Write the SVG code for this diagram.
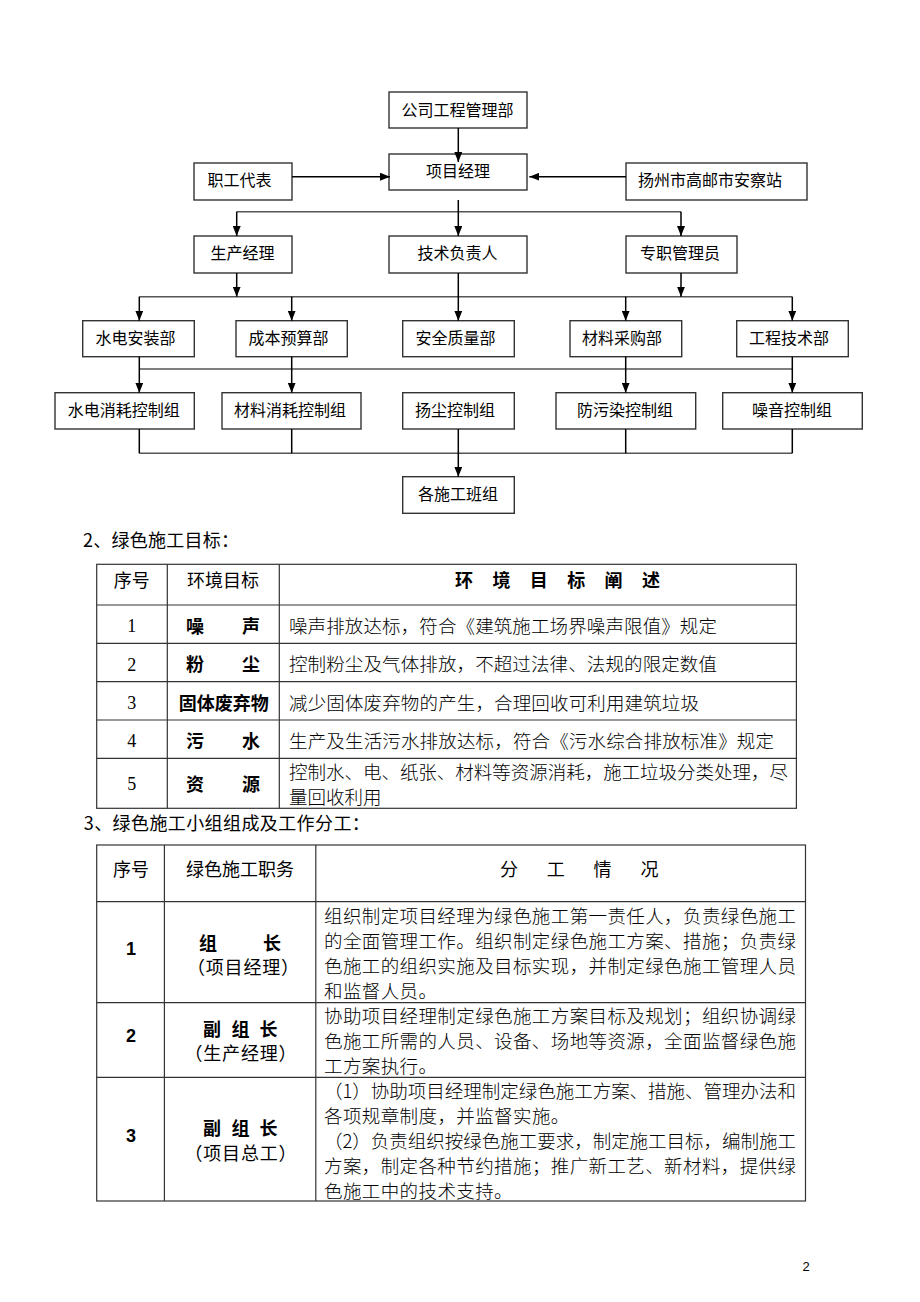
<svg xmlns="http://www.w3.org/2000/svg" width="920" height="1302" viewBox="0 0 920 1302">
<style>
.box{fill:#fff;stroke:#333;stroke-width:1.4}
.lbl{font-family:"Noto Sans CJK SC","Liberation Sans",sans-serif;font-size:16px;fill:#000;text-anchor:middle}
.ln{stroke:#000;stroke-width:1.5;fill:none}
.bus{stroke:#555;stroke-width:1.5;fill:none}
.grid{stroke:#333;stroke-width:1.2;fill:none}
.cj{font-family:"Noto Sans CJK SC","Liberation Sans",sans-serif;font-size:18px;fill:#000}
.ds{font-family:"Noto Sans CJK SC","Liberation Serif",serif;font-size:18.5px;fill:#000;font-weight:300}
.num{font-family:"Liberation Serif","Noto Sans CJK SC",serif;font-size:18px;fill:#000;text-anchor:middle}
.bnum{font-family:"Liberation Sans","Noto Sans CJK SC",sans-serif;font-size:18px;font-weight:bold;fill:#000;text-anchor:middle}
.mid{text-anchor:middle}
.b{font-weight:bold}
</style>
<defs>
<marker id="ah" markerWidth="10" markerHeight="8" refX="10" refY="4" orient="auto" markerUnits="userSpaceOnUse"><path d="M0,0 L10,4 L0,8 z" fill="#000"/></marker>
</defs>

<g id="n-company"><rect class="box" x="389" y="92" width="138" height="36"/><text class="lbl" x="457.5" y="116">公司工程管理部</text></g>
<g id="n-pm"><rect class="box" x="389" y="154" width="138" height="36"/><text class="lbl" x="458" y="177">项目经理</text></g>
<g id="n-staff"><rect class="box" x="194" y="163" width="98" height="37"/><text class="lbl" x="239.5" y="186">职工代表</text></g>
<g id="n-station"><rect class="box" x="626" y="163" width="181" height="37"/><text class="lbl" x="710" y="186">扬州市高邮市安察站</text></g>
<g id="n-prod"><rect class="box" x="194" y="236" width="98" height="37"/><text class="lbl" x="242.5" y="259.3">生产经理</text></g>
<g id="n-tech"><rect class="box" x="389" y="236" width="138" height="37"/><text class="lbl" x="457.5" y="259.3">技术负责人</text></g>
<g id="n-dedicated"><rect class="box" x="626" y="236" width="111" height="37"/><text class="lbl" x="680" y="259.3">专职管理员</text></g>

<g id="n-hydro"><rect class="box" x="82.7" y="320.7" width="111.6" height="36"/><text class="lbl" x="135.5" y="344.3">水电安装部</text></g>
<g id="n-cost"><rect class="box" x="236" y="320.7" width="111.3" height="36"/><text class="lbl" x="288.5" y="344.3">成本预算部</text></g>
<g id="n-safety"><rect class="box" x="402.7" y="320.7" width="111.6" height="36"/><text class="lbl" x="455.5" y="344.3">安全质量部</text></g>
<g id="n-purchase"><rect class="box" x="570" y="320.7" width="111.7" height="36"/><text class="lbl" x="622" y="344.3">材料采购部</text></g>
<g id="n-engtech"><rect class="box" x="736.7" y="320.7" width="111.6" height="36"/><text class="lbl" x="789" y="344.3">工程技术部</text></g>

<g id="n-g1"><rect class="box" x="55" y="392.7" width="139.3" height="36.3"/><text class="lbl" x="123.7" y="416">水电消耗控制组</text></g>
<g id="n-g2"><rect class="box" x="222" y="392.7" width="139" height="36.3"/><text class="lbl" x="290" y="416">材料消耗控制组</text></g>
<g id="n-g3"><rect class="box" x="402.7" y="392.7" width="111.6" height="36.3"/><text class="lbl" x="455" y="416">扬尘控制组</text></g>
<g id="n-g4"><rect class="box" x="556" y="392.7" width="139.7" height="36.3"/><text class="lbl" x="625" y="416">防污染控制组</text></g>
<g id="n-g5"><rect class="box" x="722.7" y="392.7" width="139.6" height="36.3"/><text class="lbl" x="792" y="416">噪音控制组</text></g>

<g id="n-teams"><rect class="box" x="402.7" y="476.7" width="111.6" height="36.6"/><text class="lbl" x="458" y="500">各施工班组</text></g>

<g id="connectors">
<path class="bus" d="M236.7,211.7 H681 M139.3,296.7 H792.3 M139.3,369 H792.3 M139.3,453.3 H792.3"/>
<path class="ln" d="M139.3,429 V453.3 M291.7,429 V453.3 M625.7,429 V453.3 M792.3,429 V453.3"/>
<g class="ln" marker-end="url(#ah)">
<path d="M458.3,128 V162"/>
<path d="M292,176.7 H390"/>
<path d="M626,176.7 H529.3"/>
<path d="M458.3,200 V236"/>
<path d="M236.7,211.7 V236"/>
<path d="M681,211.7 V236"/>
<path d="M236.7,273 V296.7"/>
<path d="M681,273 V296.7"/>
<path d="M458.3,273 V320.7"/>
<path d="M139.3,296.7 V320.7"/>
<path d="M291.7,296.7 V320.7"/>
<path d="M625.7,296.7 V320.7"/>
<path d="M792.3,296.7 V320.7"/>
<path d="M139.3,356.7 V392.7"/>
<path d="M291.7,356.7 V392.7"/>
<path d="M625.7,356.7 V392.7"/>
<path d="M792.3,356.7 V392.7"/>
<path d="M458.3,429 V476.7"/>
</g>
</g>

<g id="table1">
<text class="cj" x="83" y="547" textLength="156" lengthAdjust="spacing">2、绿色施工目标：</text>
<rect class="grid" x="96.7" y="564.3" width="699.7" height="244"/>
<path class="grid" d="M167.3,564.3 V808.3 M279.3,564.3 V808.3 M96.7,605 H796.4 M96.7,643.3 H796.4 M96.7,681.7 H796.4 M96.7,720 H796.4 M96.7,758.3 H796.4"/>
<text class="cj mid" x="131.7" y="587">序号</text>
<text class="cj mid" x="223" y="587">环境目标</text>
<text class="cj b" x="455 492.4 529.8 567.2 604.6 642" y="587">环境目标阐述</text>
<text class="num" x="131.7" y="632">1</text>
<text class="num" x="131.7" y="670.5">2</text>
<text class="num" x="131.7" y="709">3</text>
<text class="num" x="131.7" y="747">4</text>
<text class="num" x="131.7" y="790">5</text>
<text class="cj b" x="186 242" y="633">噪声</text>
<text class="cj b" x="186 242" y="671">粉尘</text>
<text class="cj b mid" x="223.8" y="709.5">固体废弃物</text>
<text class="cj b" x="186 242" y="747.5">污水</text>
<text class="cj b" x="186 242" y="791">资源</text>
<text class="ds" x="289" y="633" textLength="428" lengthAdjust="spacing">噪声排放达标，符合《建筑施工场界噪声限值》规定</text>
<text class="ds" x="289" y="671" textLength="428" lengthAdjust="spacing">控制粉尘及气体排放，不超过法律、法规的限定数值</text>
<text class="ds" x="289" y="709.5" textLength="410" lengthAdjust="spacing">减少固体废弃物的产生，合理回收可利用建筑垃圾</text>
<text class="ds" x="289" y="747.5" textLength="485" lengthAdjust="spacing">生产及生活污水排放达标，符合《污水综合排放标准》规定</text>
<text class="ds" x="289" y="778.5" textLength="499" lengthAdjust="spacing">控制水、电、纸张、材料等资源消耗，施工垃圾分类处理，尽</text>
<text class="ds" x="289" y="803.5">量回收利用</text>
</g>

<g id="table2">
<text class="cj" x="83.8" y="830" textLength="286" lengthAdjust="spacing">3、绿色施工小组组成及工作分工：</text>
<rect class="grid" x="96.7" y="845" width="708.8" height="356"/>
<path class="grid" d="M164.4,845 V1201 M315.8,845 V1201 M96.7,901.7 H805.5 M96.7,1002.7 H805.5 M96.7,1077.3 H805.5"/>
<text class="cj mid" x="131" y="876">序号</text>
<text class="cj mid" x="240" y="876">绿色施工职务</text>
<text class="cj" x="500 546.7 593.4 640.5" y="876">分工情况</text>

<text class="bnum" x="131" y="954.5">1</text>
<text class="bnum" x="131" y="1041.5">2</text>
<text class="bnum" x="131" y="1141.5">3</text>

<text class="cj b" x="199 263" y="949.5">组长</text>
<text class="cj mid" x="243" y="973.5" textLength="112" lengthAdjust="spacing">（项目经理）</text>
<text class="cj b" x="203 231.5 259.5" y="1036">副组长</text>
<text class="cj mid" x="240.5" y="1060" textLength="112" lengthAdjust="spacing">（生产经理）</text>
<text class="cj b" x="203 231.5 259.5" y="1135">副组长</text>
<text class="cj mid" x="240.5" y="1160" textLength="112" lengthAdjust="spacing">（项目总工）</text>

<text class="ds" x="324" y="923" textLength="472" lengthAdjust="spacing">组织制定项目经理为绿色施工第一责任人，负责绿色施工</text>
<text class="ds" x="324" y="948" textLength="472" lengthAdjust="spacing">的全面管理工作。组织制定绿色施工方案、措施；负责绿</text>
<text class="ds" x="324" y="973" textLength="472" lengthAdjust="spacing">色施工的组织实施及目标实现，并制定绿色施工管理人员</text>
<text class="ds" x="324" y="998" letter-spacing="0.4">和监督人员。</text>
<text class="ds" x="324" y="1023" textLength="472" lengthAdjust="spacing">协助项目经理制定绿色施工方案目标及规划；组织协调绿</text>
<text class="ds" x="324" y="1048" textLength="472" lengthAdjust="spacing">色施工所需的人员、设备、场地等资源，全面监督绿色施</text>
<text class="ds" x="324" y="1073" letter-spacing="0.4">工方案执行。</text>
<text class="ds" x="324" y="1098" textLength="472" lengthAdjust="spacing">（1）协助项目经理制定绿色施工方案、措施、管理办法和</text>
<text class="ds" x="324" y="1123" letter-spacing="0.4">各项规章制度，并监督实施。</text>
<text class="ds" x="324" y="1148" textLength="472" lengthAdjust="spacing">（2）负责组织按绿色施工要求，制定施工目标，编制施工</text>
<text class="ds" x="324" y="1173" textLength="472" lengthAdjust="spacing">方案，制定各种节约措施；推广新工艺、新材料，提供绿</text>
<text class="ds" x="324" y="1198" letter-spacing="0.4">色施工中的技术支持。</text>
</g>

<text x="806" y="1271" font-family="Liberation Sans, sans-serif" font-size="13" text-anchor="middle" fill="#000">2</text>
</svg>
